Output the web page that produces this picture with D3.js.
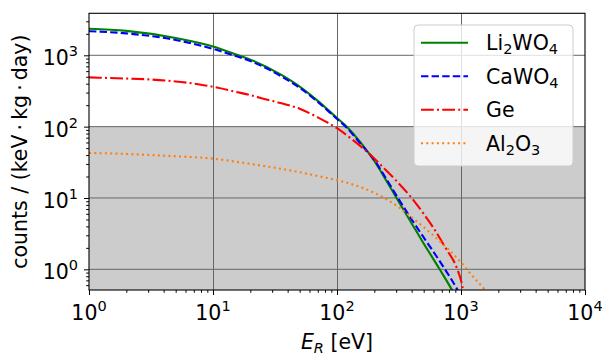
<!DOCTYPE html>
<html>
<head>
<meta charset="utf-8">
<script src="https://cdn.jsdelivr.net/npm/d3@7"></script>
<style>
  body { margin: 0; background: #fff; }
  svg text { font-family: "DejaVu Sans", sans-serif; fill: #000; }
</style>
</head>
<body>
<div class="chart"></div>
<script>
// recoil energies in eV and rates in counts / (keV kg day)
const li2wo4E = [1, 2, 5, 10, 16, 20, 35, 50, 70, 100, 120, 160, 200, 250, 302, 400, 500, 673, 853, 920];
const li2wo4Counts = [2360, 2200, 1750, 1330, 1000, 870, 540, 365, 230, 132, 100, 56, 33, 17.5, 10, 4.4, 2.3, 1.0, 0.5, 0.39];

const cawo4E = [1, 2, 5, 10, 14.6, 20, 35, 50, 70, 100, 120, 160, 200, 250, 305, 400, 500, 630, 763, 850, 946, 1000];
const cawo4Counts = [2180, 2030, 1640, 1230, 1000, 830, 515, 350, 222, 128, 96, 54, 34, 18.5, 10.5, 5.0, 2.8, 1.55, 0.93, 0.69, 0.5, 0.42];

const geE = [1, 2, 3, 5, 7.8, 10, 15, 20, 27, 35, 50, 70, 100, 130, 184, 240, 300, 400, 500, 600, 750, 935, 1000, 1040, 1060];
const geCounts = [490, 472, 460, 430, 390, 362, 310, 277, 240, 215, 178, 135, 95, 68, 41, 26, 17.5, 10, 6.0, 3.8, 2.0, 1.0, 0.7, 0.5, 0.4];

const al2o3E = [1, 2, 3.16, 5, 10, 20, 31.6, 50, 70, 100, 126, 158, 200, 251, 316, 398, 501, 631, 794, 1000, 1259, 1585, 1700];
const al2o3Counts = [42.8, 41.5, 40, 38.5, 35.6, 30, 26.5, 23, 20.3, 17.8, 16.0, 14.0, 11.8, 9.6, 7.4, 5.4, 3.9, 2.75, 1.9, 1.25, 0.78, 0.5, 0.43];

const seriesNames = ['Li2WO4', 'CaWO4', 'Ge', 'Al2O3'];
const xTickExps = [0, 1, 2, 3, 4];
const yTickExps = [0, 1, 2, 3];
const threshold = 100;

const series = [
  { name: seriesNames[0], label: [['Li', 0], ['2', 1], ['WO', 0], ['4', 1]], e: li2wo4E, c: li2wo4Counts, color: 'green', dash: null },
  { name: seriesNames[1], label: [['CaWO', 0], ['4', 1]], e: cawo4E, c: cawo4Counts, color: 'blue', dash: '7.4,3.2' },
  { name: seriesNames[2], label: [['Ge', 0]], e: geE, c: geCounts, color: 'red', dash: '12.8,3.2,2,3.2' },
  { name: seriesNames[3], label: [['Al', 0], ['2', 1], ['O', 0], ['3', 1]], e: al2o3E, c: al2o3Counts, color: '#ff7f0e', dash: '2,3.3' }
];

const fontSize = '20.5px';
const smallSize = '14.5px';

const margin = { left: 89, right: 29, top: 13.3, bottom: 74 };
const chartWidth = 614;
const chartHeight = 364;
const width = chartWidth - margin.left - margin.right;
const height = chartHeight - margin.top - margin.bottom;

const root = d3.select('.chart')
  .append('svg')
  .attr('width', chartWidth)
  .attr('height', chartHeight);

const svg = root.append('g')
  .attr('transform', `translate(${margin.left}, ${margin.top})`);

const xScale = d3.scaleLog()
  .domain([1, 1e4])
  .range([0, width]);

const yScale = d3.scaleLog()
  .domain([0.513, 3880])
  .range([height, 0]);

svg.append('clipPath')
  .attr('id', 'plotclip')
  .append('rect')
  .attr('width', width)
  .attr('height', height);

// shaded region below threshold
svg.append('rect')
  .attr('x', 0)
  .attr('y', yScale(threshold))
  .attr('width', width)
  .attr('height', height - yScale(threshold))
  .attr('fill', '#cccccc');

// grid
const grid = svg.append('g')
  .attr('stroke', '#666666')
  .attr('stroke-width', 1);
grid.selectAll('.gx')
  .data(xTickExps.slice(1, -1))
  .enter()
  .append('line')
  .attr('x1', d => Math.round(xScale(Math.pow(10, d))) + 0.5)
  .attr('x2', d => Math.round(xScale(Math.pow(10, d))) + 0.5)
  .attr('y1', 0)
  .attr('y2', height);
grid.selectAll('.gy')
  .data(yTickExps)
  .enter()
  .append('line')
  .attr('x1', 0)
  .attr('x2', width)
  .attr('y1', d => yScale(Math.pow(10, d)))
  .attr('y2', d => yScale(Math.pow(10, d)));

// curves
const line = d3.line()
  .x(d => xScale(d[0]))
  .y(d => yScale(d[1]))
  .curve(d3.curveMonotoneX);

svg.append('g')
  .attr('clip-path', 'url(#plotclip)')
  .selectAll('path')
  .data(series)
  .enter()
  .append('path')
  .attr('d', s => line(s.e.map((e, i) => [e, s.c[i]])))
  .attr('fill', 'none')
  .attr('stroke', s => s.color)
  .attr('stroke-width', 2.1)
  .attr('stroke-dasharray', s => s.dash);

// axes: ticks only, labels drawn by hand for the superscripts
const xMinor = [];
const yMinor = [];
xTickExps.slice(0, -1).forEach(p => d3.range(2, 10).forEach(m => xMinor.push(m * Math.pow(10, p))));
[-1, 0, 1, 2, 3].forEach(p => d3.range(2, 10).forEach(m => {
  const v = m * Math.pow(10, p);
  if (v >= 0.513 && v <= 3880) yMinor.push(v);
}));

const styleAxis = g => {
  g.select('.domain').remove();
  g.selectAll('line').attr('stroke', '#000').attr('stroke-width', 1);
};

svg.append('g')
  .attr('transform', `translate(0, ${height})`)
  .call(d3.axisBottom(xScale).tickValues(xTickExps.map(p => Math.pow(10, p))).tickSize(5).tickFormat(''))
  .call(styleAxis);
svg.append('g')
  .attr('transform', `translate(0, ${height})`)
  .call(d3.axisBottom(xScale).tickValues(xMinor).tickSize(2.8).tickFormat(''))
  .call(styleAxis);
svg.append('g')
  .call(d3.axisLeft(yScale).tickValues(yTickExps.map(p => Math.pow(10, p))).tickSize(5).tickFormat(''))
  .call(styleAxis);
svg.append('g')
  .call(d3.axisLeft(yScale).tickValues(yMinor).tickSize(2.8).tickFormat(''))
  .call(styleAxis);

const xLabels = svg.selectAll('.xl')
  .data(xTickExps)
  .enter()
  .append('text')
  .attr('x', d => xScale(Math.pow(10, d)))
  .attr('y', height + 30.5)
  .attr('text-anchor', 'middle')
  .attr('font-size', fontSize);
xLabels.append('tspan').text('10');
xLabels.append('tspan').attr('dy', -9).attr('font-size', smallSize).text(d => d);

const yLabels = svg.selectAll('.yl')
  .data(yTickExps)
  .enter()
  .append('text')
  .attr('x', -11)
  .attr('y', d => yScale(Math.pow(10, d)) + 10)
  .attr('text-anchor', 'end')
  .attr('font-size', fontSize);
yLabels.append('tspan').text('10');
yLabels.append('tspan').attr('dy', -9).attr('font-size', smallSize).text(d => d);

// axis titles
const xTitle = svg.append('text')
  .attr('x', width / 2)
  .attr('y', height + 59)
  .attr('text-anchor', 'middle')
  .attr('font-size', fontSize);
xTitle.append('tspan').attr('font-style', 'italic').text('E');
xTitle.append('tspan').attr('font-style', 'italic').attr('font-size', smallSize).attr('dy', 4).text('R');
xTitle.append('tspan').attr('dy', -4).text(' [eV]');

svg.append('text')
  .attr('transform', `translate(${-margin.left + 27}, ${height / 2}) rotate(-90)`)
  .attr('text-anchor', 'middle')
  .attr('font-size', fontSize)
  .text('counts / (keV\u2009\u00b7\u2009kg\u2009\u00b7\u2009day)');

// frame
svg.append('rect')
  .attr('width', width)
  .attr('height', height)
  .attr('fill', 'none')
  .attr('stroke', '#000')
  .attr('stroke-width', 1.1);

// legend
const legend = root.append('g')
  .attr('transform', 'translate(414, 25)');
legend.append('rect')
  .attr('width', 159)
  .attr('height', 141)
  .attr('rx', 4)
  .attr('fill', '#fff')
  .attr('fill-opacity', 0.8)
  .attr('stroke', '#cccccc')
  .attr('stroke-width', 1);

const rows = legend.selectAll('.row')
  .data(series)
  .enter()
  .append('g')
  .attr('transform', (d, i) => `translate(0, ${17.7 + i * 33.5})`);
rows.append('line')
  .attr('x1', 7)
  .attr('x2', 54)
  .attr('stroke', d => d.color)
  .attr('stroke-width', 2.1)
  .attr('stroke-dasharray', d => d.dash);
const legendText = rows.append('text')
  .attr('x', 72)
  .attr('y', 7.5)
  .attr('font-size', fontSize);
legendText.selectAll('tspan')
  .data(d => {
    let prev = 0;
    return d.label.map(([t, sub]) => {
      const dy = (sub - prev) * 4;
      prev = sub;
      return { t, sub, dy };
    });
  })
  .enter()
  .append('tspan')
  .attr('dy', d => d.dy)
  .attr('font-size', d => d.sub ? smallSize : null)
  .text(d => d.t);
</script>
</body>
</html>
